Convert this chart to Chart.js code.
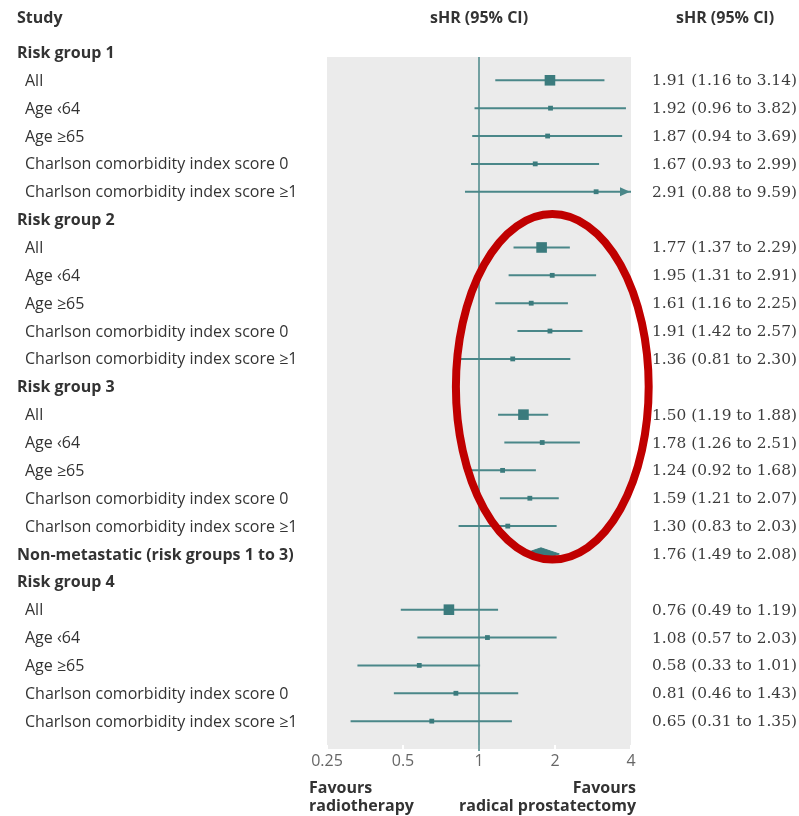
<!DOCTYPE html>
<html>
<head>
<meta charset="utf-8">
<script src="https://cdn.jsdelivr.net/npm/chart.js@4.4.1/dist/chart.umd.min.js"></script>
<style>
html, body { margin: 0; padding: 0; background: #fff; }
</style>
</head>
<body>
<canvas id="forest" width="799" height="816"></canvas>
<script>
// rows top to bottom; group headers have no estimate
const rowLabels = [
    'Risk group 1', 'All', 'Age ‹64', 'Age ≥65', 'Charlson comorbidity index score 0', 'Charlson comorbidity index score ≥1',
    'Risk group 2', 'All', 'Age ‹64', 'Age ≥65', 'Charlson comorbidity index score 0', 'Charlson comorbidity index score ≥1',
    'Risk group 3', 'All', 'Age ‹64', 'Age ≥65', 'Charlson comorbidity index score 0', 'Charlson comorbidity index score ≥1',
    'Non-metastatic (risk groups 1 to 3)',
    'Risk group 4', 'All', 'Age ‹64', 'Age ≥65', 'Charlson comorbidity index score 0', 'Charlson comorbidity index score ≥1'
];
const rowKind = [
    'group', 'all', 'sub', 'sub', 'sub', 'sub',
    'group', 'all', 'sub', 'sub', 'sub', 'sub',
    'group', 'all', 'sub', 'sub', 'sub', 'sub',
    'pooled',
    'group', 'all', 'sub', 'sub', 'sub', 'sub'
];
const hrEst = [
    null, 1.91, 1.92, 1.87, 1.67, 2.91,
    null, 1.77, 1.95, 1.61, 1.91, 1.36,
    null, 1.50, 1.78, 1.24, 1.59, 1.30,
    1.76,
    null, 0.76, 1.08, 0.58, 0.81, 0.65
];
const hrLow = [
    null, 1.16, 0.96, 0.94, 0.93, 0.88,
    null, 1.37, 1.31, 1.16, 1.42, 0.81,
    null, 1.19, 1.26, 0.92, 1.21, 0.83,
    1.49,
    null, 0.49, 0.57, 0.33, 0.46, 0.31
];
const hrHigh = [
    null, 3.14, 3.82, 3.69, 2.99, 9.59,
    null, 2.29, 2.91, 2.25, 2.57, 2.30,
    null, 1.88, 2.51, 1.68, 2.07, 2.03,
    2.08,
    null, 1.19, 2.03, 1.01, 1.43, 1.35
];
const xTicks = [0.25, 0.5, 1, 2, 4];

const teal = '#3b7b7d';
const tealLine = '#4a8789';
const sans = '"Open Sans", "Noto Sans", sans-serif';
const textNudge = 1; // Open Sans sits a bit high with 'middle'

const ciSets = [];
const pointData = [];
rowLabels.forEach((label, i) => {
    if (hrEst[i] == null || rowKind[i] === 'pooled') return;
    ciSets.push({
        data: [{ x: hrLow[i], y: i }, { x: hrHigh[i], y: i }],
        showLine: true,
        borderColor: tealLine,
        borderWidth: 2,
        pointRadius: 0
    });
    pointData.push({ x: hrEst[i], y: i, big: rowKind[i] === 'all' });
});

const pooledIdx = rowKind.indexOf('pooled');
const diamond = [
    { x: hrLow[pooledIdx], y: pooledIdx },
    { x: hrEst[pooledIdx], y: pooledIdx - 0.22 },
    { x: hrHigh[pooledIdx], y: pooledIdx },
    { x: hrEst[pooledIdx], y: pooledIdx + 0.22 },
    { x: hrLow[pooledIdx], y: pooledIdx }
];

const panelPlugin = {
    id: 'panel',
    beforeDatasetsDraw(chart) {
        const { ctx, chartArea: ca, scales } = chart;
        ctx.save();
        ctx.fillStyle = '#ebebeb';
        ctx.fillRect(ca.left, ca.top - 1, ca.right - ca.left, ca.bottom - ca.top + 1);
        // small white ticks at bottom of panel
        ctx.strokeStyle = '#ffffff';
        ctx.lineWidth = 2;
        xTicks.forEach(v => {
            const px = scales.x.getPixelForValue(v);
            ctx.beginPath();
            ctx.moveTo(px, ca.bottom - 4);
            ctx.lineTo(px, ca.bottom);
            ctx.stroke();
        });
        // no-effect line at 1
        const x1 = scales.x.getPixelForValue(1);
        ctx.strokeStyle = tealLine;
        ctx.lineWidth = 1.5;
        ctx.beginPath();
        ctx.moveTo(x1, ca.top - 1);
        ctx.lineTo(x1, ca.bottom + 2);
        ctx.stroke();
        ctx.restore();
    }
};

const arrowPlugin = {
    id: 'arrows',
    afterDatasetsDraw(chart) {
        const { ctx, scales } = chart;
        const xMax = scales.x.max;
        ctx.save();
        ctx.fillStyle = tealLine;
        hrHigh.forEach((hi, i) => {
            if (hi == null || hi <= xMax) return;
            const tip = scales.x.getPixelForValue(xMax) - 1;
            const py = scales.y.getPixelForValue(i);
            ctx.beginPath();
            ctx.moveTo(tip, py);
            ctx.lineTo(tip - 10, py - 4.5);
            ctx.lineTo(tip - 10, py + 4.5);
            ctx.closePath();
            ctx.fill();
        });
        ctx.restore();
    }
};

const textPlugin = {
    id: 'texts',
    afterDraw(chart) {
        const { ctx, chartArea: ca, scales } = chart;
        const ys = scales.y;
        ctx.save();
        ctx.textBaseline = 'middle';
        const headY = ys.getPixelForValue(-1.25) + textNudge;
        ctx.fillStyle = '#333';
        ctx.font = 'bold 16px ' + sans;
        ctx.textAlign = 'left';
        ctx.fillText('Study', 17, headY);
        ctx.textAlign = 'center';
        ctx.fillText('sHR (95% CI)', (ca.left + ca.right) / 2, headY);
        ctx.fillText('sHR (95% CI)', ca.right + 94, headY);

        rowLabels.forEach((label, i) => {
            const py = ys.getPixelForValue(i) + textNudge;
            const kind = rowKind[i];
            ctx.textAlign = 'left';
            ctx.fillStyle = '#333';
            if (kind === 'group' || kind === 'pooled') {
                ctx.font = 'bold 16px ' + sans;
                ctx.fillText(label, 17, py);
            } else {
                ctx.font = '16px ' + sans;
                ctx.fillText(label, 25, py);
            }
            if (hrEst[i] != null) {
                ctx.font = '15.4px "DejaVu Serif", serif';
                ctx.fillStyle = '#3c3c3c';
                const txt = hrEst[i].toFixed(2) + ' (' + hrLow[i].toFixed(2) + ' to ' + hrHigh[i].toFixed(2) + ')';
                ctx.fillText(txt, ca.right + 21, py);
            }
        });

        ctx.font = 'bold 16px ' + sans;
        ctx.fillStyle = '#333';
        ctx.textAlign = 'left';
        ctx.fillText('Favours', ca.left - 18, ca.bottom + 39);
        ctx.fillText('radiotherapy', ca.left - 18, ca.bottom + 57);
        ctx.textAlign = 'right';
        ctx.fillText('Favours', ca.right + 5, ca.bottom + 39);
        ctx.fillText('radical prostatectomy', ca.right + 5, ca.bottom + 57);

        // red highlight ellipse drawn over the figure
        const xs = scales.x;
        const left = xs.getPixelForValue(0.81), right = xs.getPixelForValue(4.7);
        const top = ys.getPixelForValue(5.8), bottom = ys.getPixelForValue(18.2);
        ctx.strokeStyle = '#c00000';
        ctx.lineWidth = 8;
        ctx.beginPath();
        ctx.ellipse((left + right) / 2, (top + bottom) / 2, (right - left) / 2, (bottom - top) / 2, 0, 0, Math.PI * 2);
        ctx.stroke();
        ctx.restore();
    }
};

new Chart(document.getElementById('forest'), {
    type: 'scatter',
    data: {
        datasets: [
            {
                data: pointData,
                pointStyle: 'rect',
                pointRadius: c => (c.raw && c.raw.big ? 7.5 : 3.4),
                backgroundColor: teal,
                borderWidth: 0
            },
            {
                data: diamond,
                showLine: true,
                fill: 'shape',
                tension: 0,
                backgroundColor: teal,
                borderColor: teal,
                borderWidth: 1,
                pointRadius: 0
            },
            ...ciSets
        ]
    },
    options: {
        responsive: false,
        animation: false,
        events: [],
        layout: { padding: { left: 327, right: 168, top: 58, bottom: 0 } },
        plugins: {
            legend: { display: false },
            tooltip: { enabled: false }
        },
        scales: {
            x: {
                type: 'logarithmic',
                min: 0.25,
                max: 4,
                position: 'bottom',
                afterBuildTicks: s => { s.ticks = xTicks.map(v => ({ value: v })); },
                afterFit: s => { s.height = 67; },
                grid: { display: false, drawTicks: false },
                border: { display: false },
                ticks: {
                    autoSkip: false,
                    maxRotation: 0,
                    padding: 3,
                    color: '#666',
                    font: { family: sans, size: 16 },
                    callback: v => String(v)
                }
            },
            y: {
                type: 'linear',
                reverse: true,
                min: 0.2,
                max: 25,
                display: false
            }
        }
    },
    plugins: [panelPlugin, arrowPlugin, textPlugin]
});
</script>
</body>
</html>
